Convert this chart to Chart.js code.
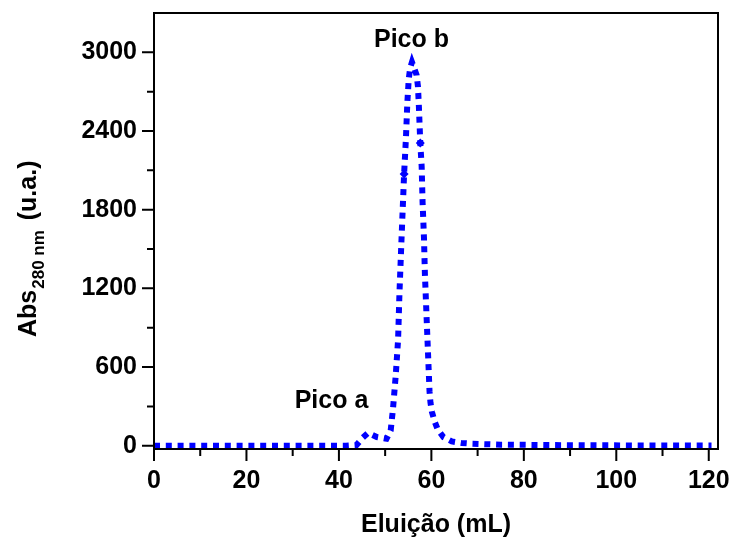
<!DOCTYPE html>
<html>
<head>
<meta charset="utf-8">
<script src="https://cdn.jsdelivr.net/npm/chart.js@4"></script>
<style>
  html, body { margin: 0; padding: 0; background: #fff; }
  #wrap { width: 735px; height: 538px; }
</style>
</head>
<body>
<div id="wrap"><canvas id="chart" width="735" height="538"></canvas></div>
<script>
// Elution profile (mL vs. Abs 280 nm)
const elutionMl = [0, 10, 20, 30, 40, 41.5, 43.8, 45.1, 46.3, 48.2, 50.3, 51.2, 51.7, 52.3, 52.8, 53.1, 53.5, 53.9,
    54.1, 54.5, 54.8, 55.1, 55.4, 55.8, 56.8, 57.1, 57.3, 57.6, 57.9, 58.1, 58.4, 58.6, 58.9, 59.1, 59.4, 59.6,
    59.8, 60.1, 60.7, 61.4, 62.6, 64.4, 66.5, 68.8, 75, 90, 105, 120.6];
const absorbance = [0, 0, 0, 0, 0, 0, 5, 59, 97, 66, 53, 117, 282, 541, 808, 1168, 1540, 1893,
    2073, 2348, 2617, 2795, 2879, 2925, 2828, 2739, 2586, 2309, 2129, 1854, 1583, 1309, 1037, 859, 592, 414,
    330, 261, 185, 122, 66, 33, 21, 15, 8, 4, 2, 2];

// the two diamond-shaped marks on the flanks of peak b
const markerMl = [54.1, 57.6];
const markerAbs = [2073, 2309];

const xMajor = [0, 20, 40, 60, 80, 100, 120];
const xMinor = [10, 30, 50, 70, 90, 110];
const yMajor = [0, 600, 1200, 1800, 2400, 3000];
const yMinor = [300, 900, 1500, 2100, 2700];

const peakLabels = [
    { text: 'Pico a', x: 331.5, y: 408 },
    { text: 'Pico b', x: 411.5, y: 47 },
];

const FONT = 'bold 25px "Liberation Sans", Arial, sans-serif';
const BLUE = '#0000ff';

const frame = {
    id: 'frame',
    afterDraw(chart) {
        const { ctx, chartArea: a, scales: { x, y } } = chart;
        ctx.save();
        ctx.strokeStyle = '#000';
        ctx.lineWidth = 2;
        ctx.strokeRect(a.left, a.top, a.right - a.left, a.bottom - a.top);

        ctx.beginPath();
        xMajor.forEach(v => { const px = x.getPixelForValue(v); ctx.moveTo(px, a.bottom); ctx.lineTo(px, a.bottom + 12); });
        xMinor.forEach(v => { const px = x.getPixelForValue(v); ctx.moveTo(px, a.bottom); ctx.lineTo(px, a.bottom + 7); });
        yMajor.forEach(v => { const py = y.getPixelForValue(v); ctx.moveTo(a.left, py); ctx.lineTo(a.left - 12, py); });
        yMinor.forEach(v => { const py = y.getPixelForValue(v); ctx.moveTo(a.left, py); ctx.lineTo(a.left - 7, py); });
        ctx.stroke();

        ctx.fillStyle = '#000';
        ctx.font = FONT;
        ctx.textAlign = 'center';
        ctx.textBaseline = 'alphabetic';
        peakLabels.forEach(l => ctx.fillText(l.text, l.x, l.y));
        ctx.fillText('Eluição (mL)', (a.left + a.right) / 2, 532);

        // y title: Abs with subscript 280 nm, rotated
        ctx.translate(36, 337);
        ctx.rotate(-Math.PI / 2);
        ctx.textAlign = 'left';
        ctx.fillText('Abs', 0, 0);
        let w = ctx.measureText('Abs').width;
        ctx.font = 'bold 17px "Liberation Sans", Arial, sans-serif';
        ctx.fillText('280 nm', w + 1, 8);
        w += 1 + ctx.measureText('280 nm').width;
        ctx.font = FONT;
        ctx.fillText(' (u.a.)', w + 3, 0);
        ctx.restore();
    }
};

const tickFont = { family: '"Liberation Sans", Arial', size: 25, weight: 'bold' };

new Chart(document.getElementById('chart'), {
    type: 'scatter',
    data: {
        datasets: [
            {
                data: elutionMl.map((v, i) => ({ x: v, y: absorbance[i] })),
                showLine: true,
                borderColor: BLUE,
                borderWidth: 6,
                borderDash: [6, 5.8],
                borderCapStyle: 'butt',
                tension: 0,
                pointRadius: 0,
            },
            {
                data: markerMl.map((v, i) => ({ x: v, y: markerAbs[i] })),
                showLine: false,
                pointStyle: 'rectRot',
                pointRadius: 4.5,
                backgroundColor: BLUE,
                borderColor: BLUE,
                borderWidth: 0,
            },
        ],
    },
    options: {
        responsive: false,
        animation: false,
        layout: { padding: { top: 13, right: 17, left: 0, bottom: 0 } },
        plugins: { legend: { display: false }, tooltip: { enabled: false } },
        scales: {
            x: {
                type: 'linear',
                min: 0,
                max: 122,
                afterBuildTicks: s => { s.ticks = xMajor.map(v => ({ value: v })); },
                afterFit: s => { s.height = 89; s.paddingLeft = 0; s.paddingRight = 0; },
                grid: { display: false },
                border: { display: false },
                ticks: { color: '#000', font: tickFont, padding: 9, maxRotation: 0, callback: v => String(v) },
            },
            y: {
                min: -25,
                max: 3300,
                afterBuildTicks: s => { s.ticks = yMajor.map(v => ({ value: v })); },
                afterFit: s => { s.width = 154; s.paddingTop = 0; s.paddingBottom = 0; },
                grid: { display: false },
                border: { display: false },
                ticks: { color: '#000', font: tickFont, padding: 9, callback: v => String(v) },
            },
        },
    },
    plugins: [frame],
});
</script>
</body>
</html>
